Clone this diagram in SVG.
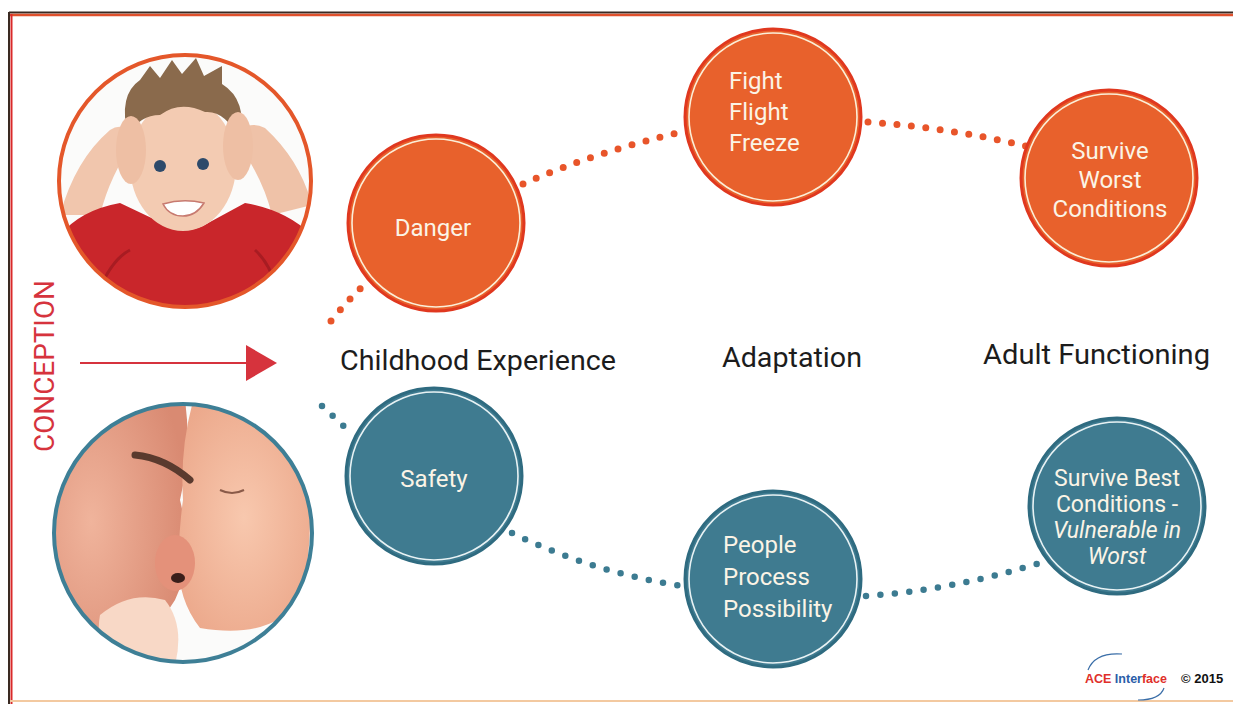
<svg xmlns="http://www.w3.org/2000/svg" width="1233" height="704" viewBox="0 0 1233 704">
<defs>
<style>
.lbl{font-family:Roboto,"Liberation Sans",sans-serif;font-size:28px;fill:#1c1c1c}
.ct{font-family:Roboto,"Liberation Sans",sans-serif;font-size:24px;fill:#fbf4e6}
.ct2{font-family:Roboto,"Liberation Sans",sans-serif;font-size:23px;fill:#fbf4e6}
.org{fill:#e8612c;stroke:#e0381f;stroke-width:3}
.tel{fill:#3f7b90;stroke:#2f6b80;stroke-width:3}
.ring{fill:none;stroke:#fbefd8;stroke-width:1.6}
.ringt{fill:none;stroke:#e8f2f4;stroke-width:1.6}
.dot-o{fill:none;stroke:#e8552a;stroke-width:7;stroke-linecap:round;stroke-dasharray:0 14.5}
.dot-t{fill:none;stroke:#3c7b91;stroke-width:6.5;stroke-linecap:round;stroke-dasharray:0 14.5}
</style>
<clipPath id="clipBoy"><circle cx="185" cy="181" r="126"/></clipPath>
<clipPath id="clipBaby"><circle cx="183" cy="533" r="129"/></clipPath>
<radialGradient id="dadSkin" cx="0.3" cy="0.45" r="0.7">
<stop offset="0" stop-color="#f0b49c"/><stop offset="1" stop-color="#d98a72"/>
</radialGradient>
<radialGradient id="babySkin" cx="0.5" cy="0.5" r="0.6">
<stop offset="0" stop-color="#f8c8ae"/><stop offset="1" stop-color="#eca98c"/>
</radialGradient>
</defs>
<rect width="1233" height="704" fill="#ffffff"/>
<g id="frame">
<line x1="9" y1="12.5" x2="1233" y2="12.5" stroke="#3a2a22" stroke-width="2"/>
<line x1="9" y1="15" x2="1233" y2="15" stroke="#e0502c" stroke-width="2.5"/>
<line x1="9" y1="12" x2="9" y2="704" stroke="#3a2a22" stroke-width="2"/>
<line x1="11.5" y1="14" x2="11.5" y2="704" stroke="#d92a2a" stroke-width="2"/>
<line x1="10" y1="701" x2="1233" y2="701" stroke="#f3c9a0" stroke-width="2"/>
</g>
<g id="photo-boy">
<g clip-path="url(#clipBoy)">
<rect x="50" y="50" width="270" height="270" fill="#fbfbfa"/>
<path d="M60,215 Q75,160 110,130 Q125,120 135,140 Q110,175 100,215 Z" fill="#f1c6ad"/>
<path d="M312,205 Q300,160 265,128 Q245,118 235,140 Q262,175 272,215 Z" fill="#efc2a8"/>
<path d="M50,250 Q70,212 120,203 L160,222 Q185,238 210,222 L245,203 Q295,212 320,245 L320,320 L50,320 Z" fill="#c9262b"/>
<path d="M95,300 Q110,260 130,250 M255,250 Q272,265 280,300" stroke="#a81c22" stroke-width="3" fill="none"/>
<ellipse cx="183" cy="165" rx="53" ry="66" fill="#f3cbb2"/>
<path d="M128,135 Q118,95 140,80 L150,66 L160,78 L172,60 L182,74 L196,58 L204,76 L222,66 L222,84 Q248,100 240,140 Q225,110 205,112 Q180,100 160,115 Q140,115 128,135 Z" fill="#8a6a4c"/>
<ellipse cx="131" cy="150" rx="15" ry="34" fill="#eebfa4"/>
<ellipse cx="238" cy="146" rx="15" ry="34" fill="#eebfa4"/>
<circle cx="160" cy="166" r="6" fill="#2d4a6a"/>
<circle cx="203" cy="164" r="6" fill="#2d4a6a"/>
<path d="M163,204 Q183,198 204,203 Q196,216 183,216 Q169,216 163,204 Z" fill="#ffffff" stroke="#c77a70" stroke-width="1.5"/>
</g>
<circle cx="185" cy="181" r="126" fill="none" stroke="#e4572a" stroke-width="4"/>
</g>
<g id="photo-baby">
<g clip-path="url(#clipBaby)">
<rect x="50" y="400" width="270" height="270" fill="#fbfbfa"/>
<path d="M50,400 L185,400 Q192,450 180,500 Q195,560 175,600 Q150,640 120,670 L50,670 Z" fill="url(#dadSkin)"/>
<path d="M192,405 Q250,400 300,450 Q320,520 300,600 Q270,640 200,628 Q178,600 178,560 Q180,520 183,500 Q180,450 192,405 Z" fill="url(#babySkin)"/>
<path d="M135,455 Q165,458 190,480" stroke="#5a3a2e" stroke-width="7" fill="none" stroke-linecap="round"/>
<path d="M220,490 Q232,496 244,490" stroke="#8a5a48" stroke-width="2" fill="none"/>
<ellipse cx="175" cy="563" rx="20" ry="28" fill="#e4917a"/>
<ellipse cx="178" cy="578" rx="7" ry="5" fill="#3a1e1a"/>
<path d="M100,615 Q130,590 165,600 Q185,625 175,665 L110,670 Q95,640 100,615 Z" fill="#f8d8c6"/>
</g>
<circle cx="183" cy="533" r="129" fill="none" stroke="#3e7f96" stroke-width="4"/>
</g>
<g id="conception">
<text x="45" y="366" transform="rotate(-90 45 366)" text-anchor="middle" dominant-baseline="central" font-family="Roboto,'Liberation Sans',sans-serif" font-size="27" fill="#d6333d" textLength="172" lengthAdjust="spacingAndGlyphs">CONCEPTION</text>
<line x1="80" y1="363" x2="248" y2="363" stroke="#d6333d" stroke-width="2"/>
<polygon points="246,345 277,363 246,381" fill="#d6333d"/>
</g>
<g id="connectors">
<path class="dot-o" d="M331,321 Q348,300 367,282"/>
<path class="dot-o" d="M523,184 Q595,152 682,132"/>
<path class="dot-o" d="M868,122 Q950,128 1026,146"/>
<path class="dot-t" d="M322,406 L350,432"/>
<path class="dot-t" d="M512,533 Q592,572 682,586"/>
<path class="dot-t" d="M866,596 Q952,590 1040,563"/>
</g>
<g id="labels">
<text class="lbl" x="340" y="370" textLength="276" lengthAdjust="spacingAndGlyphs">Childhood Experience</text>
<text class="lbl" x="722" y="367" textLength="140" lengthAdjust="spacingAndGlyphs">Adaptation</text>
<text class="lbl" x="983" y="364" textLength="227" lengthAdjust="spacingAndGlyphs">Adult Functioning</text>
</g>
<g id="node-danger">
<circle class="org" cx="436" cy="223" r="88"/><circle class="ring" cx="436" cy="223" r="84"/>
<text class="ct" x="433" y="236" text-anchor="middle">Danger</text>
</g>
<g id="node-fight">
<circle class="org" cx="773" cy="117" r="88"/><circle class="ring" cx="773" cy="117" r="84"/>
<text class="ct" x="729" y="89">Fight</text>
<text class="ct" x="729" y="120">Flight</text>
<text class="ct" x="729" y="151">Freeze</text>
</g>
<g id="node-survive-worst">
<circle class="org" cx="1109" cy="178" r="88"/><circle class="ring" cx="1109" cy="178" r="84"/>
<text class="ct" x="1110" y="159" text-anchor="middle">Survive</text>
<text class="ct" x="1110" y="188" text-anchor="middle">Worst</text>
<text class="ct" x="1110" y="217" text-anchor="middle">Conditions</text>
</g>
<g id="node-safety">
<circle class="tel" cx="434" cy="476" r="88"/><circle class="ringt" cx="434" cy="476" r="84"/>
<text class="ct" x="434" y="487" text-anchor="middle">Safety</text>
</g>
<g id="node-people">
<circle class="tel" cx="773" cy="579" r="88"/><circle class="ringt" cx="773" cy="579" r="84"/>
<text class="ct" x="723" y="553">People</text>
<text class="ct" x="723" y="585">Process</text>
<text class="ct" x="723" y="617">Possibility</text>
</g>
<g id="node-survive-best">
<circle class="tel" cx="1117" cy="506" r="88"/><circle class="ringt" cx="1117" cy="506" r="84"/>
<text class="ct2" x="1117" y="486" text-anchor="middle">Survive Best</text>
<text class="ct2" x="1117" y="512" text-anchor="middle">Conditions -</text>
<text class="ct2" x="1117" y="538" text-anchor="middle" font-style="italic">Vulnerable in</text>
<text class="ct2" x="1117" y="564" text-anchor="middle" font-style="italic">Worst</text>
</g>
<g id="logo">
<path d="M1088,670 Q1095,652 1122,654" fill="none" stroke="#3a6ea8" stroke-width="1.2"/>
<path d="M1164,688 Q1160,700 1138,700" fill="none" stroke="#3a6ea8" stroke-width="1.2"/>
<text x="1085" y="683" font-family="'Liberation Sans',sans-serif" font-weight="bold" font-size="13" textLength="82" lengthAdjust="spacingAndGlyphs"><tspan fill="#e0302a">ACE </tspan><tspan fill="#2a5ea8">Inter</tspan><tspan fill="#e0302a">face</tspan></text>
<text x="1181" y="683" font-family="'Liberation Sans',sans-serif" font-size="13" font-weight="bold" fill="#111">© 2015</text>
</g>
</svg>
